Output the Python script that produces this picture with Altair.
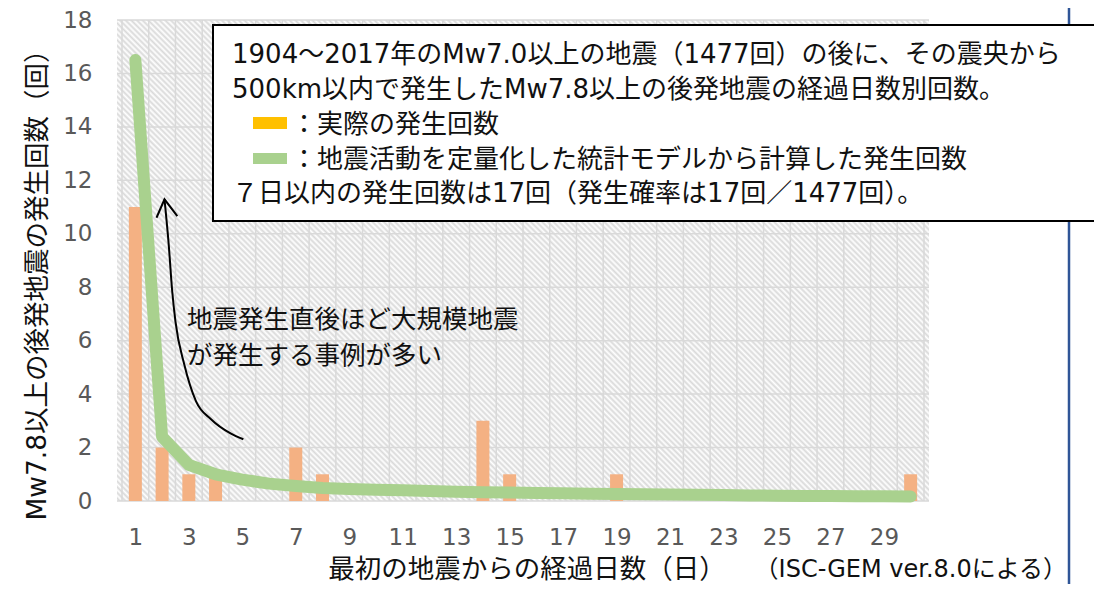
import altair as alt
import pandas as pd

# ---------------- data ----------------
days = list(range(1, 31))
actual_counts = [11, 2, 1, 1, 0, 0, 2, 1, 0, 0, 0, 0, 0, 3, 1,
                 0, 0, 0, 1, 0, 0, 0, 0, 0, 0, 0, 0, 0, 0, 1]
model_counts = [16.5, 2.4, 1.35, 1.0, 0.8, 0.65, 0.56, 0.49, 0.45, 0.42,
                0.40, 0.37, 0.35, 0.33, 0.32, 0.30, 0.29, 0.27, 0.26, 0.25,
                0.24, 0.23, 0.22, 0.21, 0.20, 0.19, 0.185, 0.18, 0.175, 0.17]
x_tick_values = list(range(1, 30, 2))
y_tick_values = list(range(0, 19, 2))
band_edges = [d - 0.5 for d in days] + [30.5]

y_title = "Mw7.8以上の後発地震の発生回数（回）"
x_title = "最初の地震からの経過日数（日）"
source_note = "（ISC-GEM ver.8.0による）"
box_lines = [
    "1904～2017年のMw7.0以上の地震（1477回）の後に、その震央から",
    "500km以内で発生したMw7.8以上の後発地震の経過日数別回数。",
    "：実際の発生回数",
    "：地震活動を定量化した統計モデルから計算した発生回数",
    "７日以内の発生回数は17回（発生確率は17回／1477回）。",
]
callout_lines = ["地震発生直後ほど大規模地震", "が発生する事例が多い"]

# annotation arrow (in day / count units)
arrow_day = [2.09, 2.24, 2.38, 2.50, 2.83, 3.27, 3.83, 4.56, 5.04]
arrow_val = [11.29, 9.69, 7.83, 6.71, 5.11, 3.73, 3.06, 2.53, 2.31]
head_day = [1.79, 2.09, 2.57]
head_val = [10.60, 11.29, 10.66]

# ---------------- styling ----------------
W, H = 812, 481
TOP = 12
dy = -2  # keep page positions of decorations after the top padding change
FONT = "DejaVu Sans, Noto Sans CJK JP"
GRID = "#d9d9d9"
BAR = "#F4B183"
LINE = "#A9D18E"

df = pd.DataFrame({"day": days, "actual": actual_counts, "model": model_counts})
one = pd.DataFrame({"k": [0]})

x_scale = alt.Scale(domain=[0.5, 30.5], nice=False, zero=False)
y_scale = alt.Scale(domain=[0, 18], nice=False)

ax_x = alt.Axis(values=x_tick_values, grid=False, domain=False, ticks=False,
                labelFontSize=23, labelColor="#595959", labelFont="DejaVu Sans",
                labelPadding=25, title=None)
ax_y = alt.Axis(values=y_tick_values, grid=False, domain=False, ticks=False,
                labelFontSize=23, labelColor="#595959", labelFont="DejaVu Sans",
                labelPadding=25, title=y_title, titleFont=FONT,
                titleFontSize=26.5, titleFontWeight="normal", titleColor="#111111",
                titleX=-80, titleY=260 + dy, titleBaseline="middle", titleAlign="center")

# hatch background via a soft striped linear gradient
r = H / W
k = (1 + r) / (1 + r * r)
diag = (W + H) / 2 ** 0.5
period = 4.0 / diag
stops = []
t = 0.0
while t < 1.0:
    stops += [
        {"offset": round(t, 5), "color": "#ffffff"},
        {"offset": round(min(t + period * 0.5, 1.0), 5), "color": "#d9d9d9"},
    ]
    t += period
stops.append({"offset": 1.0, "color": "#ffffff"})
grad = {"gradient": "linear", "x1": 0, "y1": 1, "x2": round(k, 5),
        "y2": round(1 - k * r, 5), "stops": stops}

hatch = alt.Chart(one).mark_rect(fill=grad).encode(
    x=alt.value(0), x2=alt.value(W), y=alt.value(0), y2=alt.value(H))

vgrid = alt.Chart(pd.DataFrame({"b": band_edges})).mark_rule(
    color=GRID, strokeWidth=1.5).encode(x=alt.X("b:Q", scale=x_scale, axis=ax_x))
hgrid = alt.Chart(pd.DataFrame({"v": y_tick_values})).mark_rule(
    color=GRID, strokeWidth=1.5).encode(y=alt.Y("v:Q", scale=y_scale, axis=ax_y))

bars = alt.Chart(df).mark_bar(color=BAR, size=13).encode(
    x=alt.X("day:Q", scale=x_scale, axis=ax_x),
    y=alt.Y("actual:Q", scale=y_scale, axis=ax_y),
)

model_line = alt.Chart(df).mark_line(
    color=LINE, strokeWidth=12, strokeCap="round", strokeJoin="round").encode(
    x=alt.X("day:Q", scale=x_scale, axis=ax_x),
    y=alt.Y("model:Q", scale=y_scale, axis=ax_y))

arrow_curve = alt.Chart(pd.DataFrame({"d": arrow_day, "v": arrow_val})).mark_line(
    color="black", strokeWidth=2, interpolate="monotone").encode(
    x=alt.X("d:Q", scale=x_scale, axis=ax_x), y=alt.Y("v:Q", scale=y_scale, axis=ax_y))
arrow_head = alt.Chart(pd.DataFrame({"d": head_day, "v": head_val})).mark_line(
    color="black", strokeWidth=2, strokeJoin="miter").encode(
    x=alt.X("d:Q", scale=x_scale, axis=ax_x), y=alt.Y("v:Q", scale=y_scale, axis=ax_y))

blue_rule = alt.Chart(one).mark_rule(color="#2F5597", strokeWidth=2.5).encode(
    x=alt.value(952), y=alt.value(-25), y2=alt.value(600))

box = alt.Chart(one).mark_rect(fill="white", stroke="black", strokeWidth=2).encode(
    x=alt.value(96), x2=alt.value(1010), y=alt.value(7 + dy), y2=alt.value(203 + dy))

sw_orange = alt.Chart(one).mark_rect(color="#FFC000").encode(
    x=alt.value(136), x2=alt.value(170), y=alt.value(99 + dy), y2=alt.value(111 + dy))
sw_green = alt.Chart(one).mark_rect(color=LINE).encode(
    x=alt.value(136), x2=alt.value(170), y=alt.value(135 + dy), y2=alt.value(146 + dy))


def txt(s, x, y, size=26, align="left", color="#111111"):
    return alt.Chart(one).mark_text(
        text=s, font=FONT, fontSize=size, align=align, baseline="middle",
        color=color).encode(x=alt.value(x), y=alt.value(y + dy))


box_x = [115, 115, 174, 174, 115]
box_y = [37, 72, 107, 142, 176]
texts = [txt(s, x, y) for s, x, y in zip(box_lines, box_x, box_y)]
texts += [txt(callout_lines[0], 70, 302, size=25.5), txt(callout_lines[1], 70, 338, size=25.5)]
texts += [txt(x_title, 410, 552, size=26.5, align="center"),
          txt(source_note, 950, 552, size=24, align="right")]

chart = alt.layer(
    hatch, vgrid, hgrid, bars, model_line, arrow_curve, arrow_head,
    blue_rule, box, sw_orange, sw_green, *texts
).properties(
    width=W, height=H,
    autosize=alt.AutoSizeParams(type="none"),
    padding={"left": 109, "top": TOP, "right": 165, "bottom": 83},
    background="white",
).configure_view(stroke=None)

chart.save("out.html", embed_options={"renderer": "svg", "actions": False})
